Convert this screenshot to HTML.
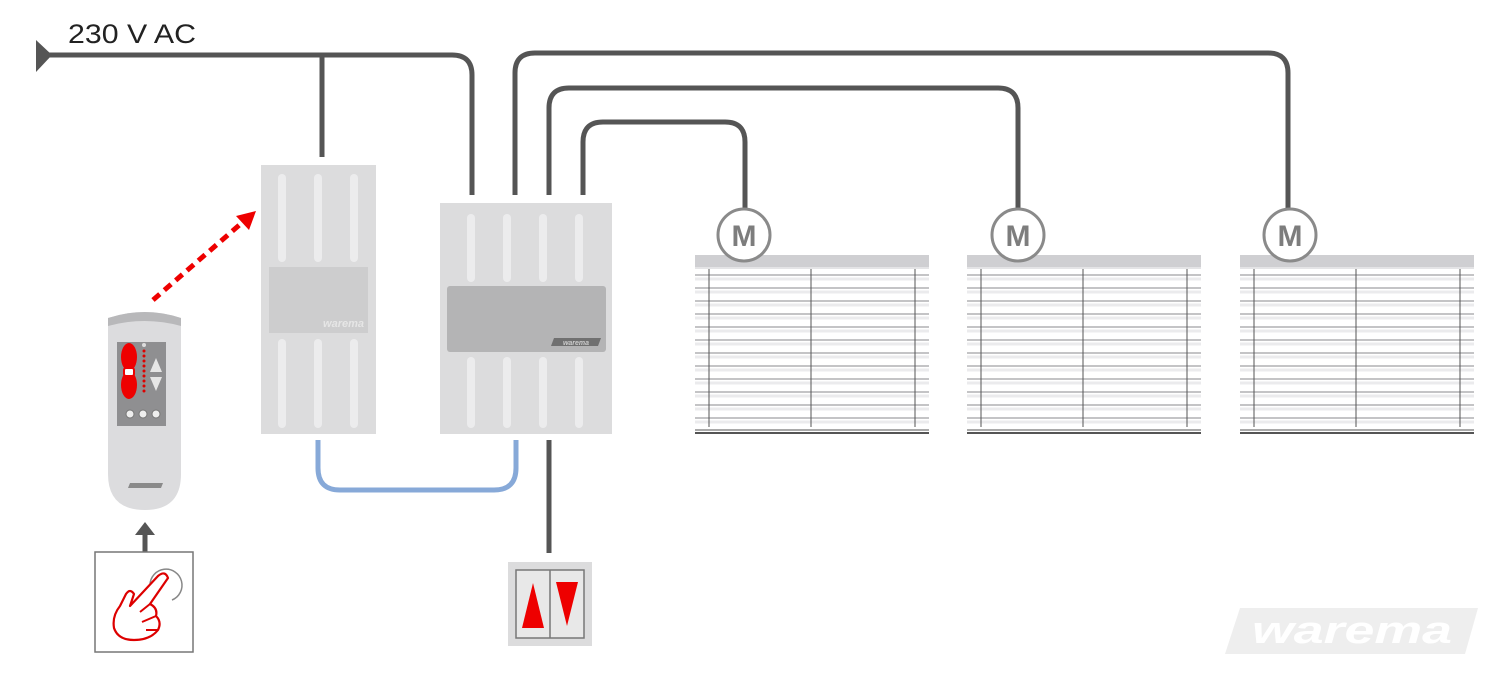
<!DOCTYPE html>
<html><head><meta charset="utf-8"><style>html,body{margin:0;padding:0;background:#fff}svg{display:block}</style></head>
<body>
<svg width="1500" height="675" viewBox="0 0 1500 675" xmlns="http://www.w3.org/2000/svg">
<defs>
<g id="blind">
  <rect x="0" y="0" width="234" height="12" fill="#cfcfd2"/>
  <rect x="0" y="12" width="234" height="2" fill="#e4e4e6"/>
  <g stroke="#b0b0b4" stroke-width="1.6">
    <line x1="0" y1="20" x2="234" y2="20"/><line x1="0" y1="33" x2="234" y2="33"/>
    <line x1="0" y1="46" x2="234" y2="46"/><line x1="0" y1="59" x2="234" y2="59"/>
    <line x1="0" y1="72" x2="234" y2="72"/><line x1="0" y1="85" x2="234" y2="85"/>
    <line x1="0" y1="98" x2="234" y2="98"/><line x1="0" y1="111" x2="234" y2="111"/>
    <line x1="0" y1="124" x2="234" y2="124"/><line x1="0" y1="137" x2="234" y2="137"/>
    <line x1="0" y1="150" x2="234" y2="150"/><line x1="0" y1="163" x2="234" y2="163"/>
  </g>
  <g stroke="#ebebed" stroke-width="3">
    <line x1="0" y1="24" x2="234" y2="24"/><line x1="0" y1="37" x2="234" y2="37"/>
    <line x1="0" y1="50" x2="234" y2="50"/><line x1="0" y1="63" x2="234" y2="63"/>
    <line x1="0" y1="76" x2="234" y2="76"/><line x1="0" y1="89" x2="234" y2="89"/>
    <line x1="0" y1="102" x2="234" y2="102"/><line x1="0" y1="115" x2="234" y2="115"/>
    <line x1="0" y1="128" x2="234" y2="128"/><line x1="0" y1="141" x2="234" y2="141"/>
    <line x1="0" y1="154" x2="234" y2="154"/><line x1="0" y1="167" x2="234" y2="167"/>
  </g>
  <g stroke="#555" stroke-width="1">
    <line x1="14" y1="14" x2="14" y2="172"/><line x1="116" y1="14" x2="116" y2="172"/><line x1="220" y1="14" x2="220" y2="172"/>
  </g>
  <rect x="0" y="174" width="234" height="2" fill="#aaa"/>
  <rect x="0" y="177" width="234" height="2" fill="#555"/>
</g>
<g id="motor">
  <circle cx="0" cy="0" r="26" fill="#fff" stroke="#8a8a8a" stroke-width="3"/>
  <text x="0" y="11" text-anchor="middle" font-family="Liberation Sans, sans-serif" font-weight="bold" font-size="30" fill="#7d7d7d">M</text>
</g>
</defs>

<g fill="none" stroke="#555" stroke-width="5">
  <path d="M45 55 H452 Q472 55 472 75 V195"/>
  <path d="M322 55 V157"/>
  <path d="M515 195 V73 Q515 53 535 53 H1268 Q1288 53 1288 73 V208"/>
  <path d="M549 195 V108 Q549 88 569 88 H998 Q1018 88 1018 108 V208"/>
  <path d="M583 195 V142 Q583 122 603 122 H725 Q745 122 745 142 V208"/>
  <path d="M549 440 V553"/>
  <path d="M145 552 V532"/>
</g>
<polygon points="36,40 52,55 36,72" fill="#555"/>
<polygon points="135,535 145,522 155,535" fill="#555"/>
<text x="68" y="43" font-family="Liberation Sans, sans-serif" font-size="27" textLength="128" lengthAdjust="spacingAndGlyphs" fill="#222">230 V AC</text>

<path d="M318 440 V468 Q318 490 340 490 H494 Q516 490 516 468 V440" fill="none" stroke="#87a9d8" stroke-width="5"/>

<rect x="261" y="165" width="115" height="269" fill="#dcdcdd"/>
<g stroke="#ececed" stroke-width="8" stroke-linecap="round">
  <line x1="282" y1="178" x2="282" y2="258"/><line x1="318" y1="178" x2="318" y2="258"/><line x1="354" y1="178" x2="354" y2="258"/>
  <line x1="282" y1="343" x2="282" y2="424"/><line x1="318" y1="343" x2="318" y2="424"/><line x1="354" y1="343" x2="354" y2="424"/>
</g>
<rect x="269" y="267" width="99" height="66" fill="#cdcdce"/>
<text x="364" y="327" text-anchor="end" font-family="Liberation Sans, sans-serif" font-weight="bold" font-style="italic" font-size="11" fill="#e6e6e6">warema</text>

<rect x="440" y="203" width="172" height="231" fill="#dcdcdd"/>
<g stroke="#ececed" stroke-width="8" stroke-linecap="round">
  <line x1="471" y1="218" x2="471" y2="278"/><line x1="507" y1="218" x2="507" y2="278"/><line x1="543" y1="218" x2="543" y2="278"/><line x1="579" y1="218" x2="579" y2="278"/>
  <line x1="471" y1="361" x2="471" y2="424"/><line x1="507" y1="361" x2="507" y2="424"/><line x1="543" y1="361" x2="543" y2="424"/><line x1="579" y1="361" x2="579" y2="424"/>
</g>
<rect x="447" y="286" width="159" height="66" rx="3" fill="#b4b4b5"/>
<polygon points="554,338 601,338 598,346 551,346" fill="#707070"/>
<text x="576" y="345" text-anchor="middle" font-family="Liberation Sans, sans-serif" font-weight="bold" font-style="italic" font-size="7" fill="#ccc">warema</text>

<use href="#blind" x="695" y="255"/>
<use href="#blind" x="967" y="255"/>
<use href="#blind" x="1240" y="255"/>
<use href="#motor" x="744" y="235"/>
<use href="#motor" x="1018" y="235"/>
<use href="#motor" x="1290" y="235"/>

<rect x="508" y="562" width="84" height="84" fill="#dcdcdd"/>
<rect x="516" y="570" width="68" height="68" fill="#e8e8e8" stroke="#777" stroke-width="1.5"/>
<line x1="550" y1="570" x2="550" y2="638" stroke="#777" stroke-width="1.5"/>
<polygon points="522,628 544,628 533,583" fill="#e00"/>
<polygon points="556,582 578,582 567,626" fill="#e00"/>

<line x1="153" y1="300" x2="244" y2="221" stroke="#e00" stroke-width="5" stroke-dasharray="9,6"/>
<polygon points="256,211 236,216 249,230" fill="#e00"/>

<path d="M108 318 Q145 306 181 318 V474 Q181 510 145 510 Q108 510 108 474 Z" fill="#dcdcde"/>
<path d="M108 318 Q145 306 181 318 V326 Q145 316 108 326 Z" fill="#b8b8ba"/>
<rect x="117" y="342" width="49" height="84" fill="#8f8f91"/>
<ellipse cx="129" cy="357" rx="8" ry="14" fill="#e00"/>
<ellipse cx="129" cy="385" rx="8" ry="14" fill="#e00"/>
<rect x="124" y="368" width="10" height="8" rx="2" fill="#fff" stroke="#e00" stroke-width="2"/>
<g fill="#d00"><circle cx="144" cy="351" r="1.5"/><circle cx="144" cy="356" r="1.5"/><circle cx="144" cy="361" r="1.5"/><circle cx="144" cy="366" r="1.5"/><circle cx="144" cy="371" r="1.5"/><circle cx="144" cy="376" r="1.5"/><circle cx="144" cy="381" r="1.5"/><circle cx="144" cy="386" r="1.5"/><circle cx="144" cy="391" r="1.5"/></g>
<circle cx="144" cy="345" r="2" fill="#ddd"/>
<polygon points="150,372 162,372 156,358" fill="#e6e6e6"/>
<polygon points="150,377 162,377 156,391" fill="#e6e6e6"/>
<g fill="#eee" stroke="#777"><circle cx="130" cy="414" r="4"/><circle cx="143" cy="414" r="4"/><circle cx="156" cy="414" r="4"/></g>
<polygon points="130,483 163,483 161,488 128,488" fill="#8a8a8a"/>

<rect x="95" y="552" width="98" height="100" fill="#fff" stroke="#777" stroke-width="1.5"/>
<path d="M150 585 A16 16 0 1 1 172 600" fill="none" stroke="#888" stroke-width="1.5"/>
<path d="M158 576 Q165 570 168 578 L150 604 Q158 608 156 616 Q162 622 158 630 Q150 640 134 640 Q118 640 114 628 Q112 616 120 606 L126 594 Q130 588 134 594 L130 606 Z" fill="none" stroke="#d00" stroke-width="2.2" stroke-linejoin="round"/>
<path d="M140 612 L150 604 M142 622 L156 616 M146 630 L158 630" fill="none" stroke="#d00" stroke-width="2"/>

<polygon points="1240,608 1478,608 1465,654 1225,654" fill="#eeeeee"/>
<text x="1352" y="643" text-anchor="middle" font-family="Liberation Sans, sans-serif" font-weight="bold" font-style="italic" font-size="38" textLength="200" lengthAdjust="spacingAndGlyphs" fill="#ffffff">warema</text>
</svg>
</body></html>
